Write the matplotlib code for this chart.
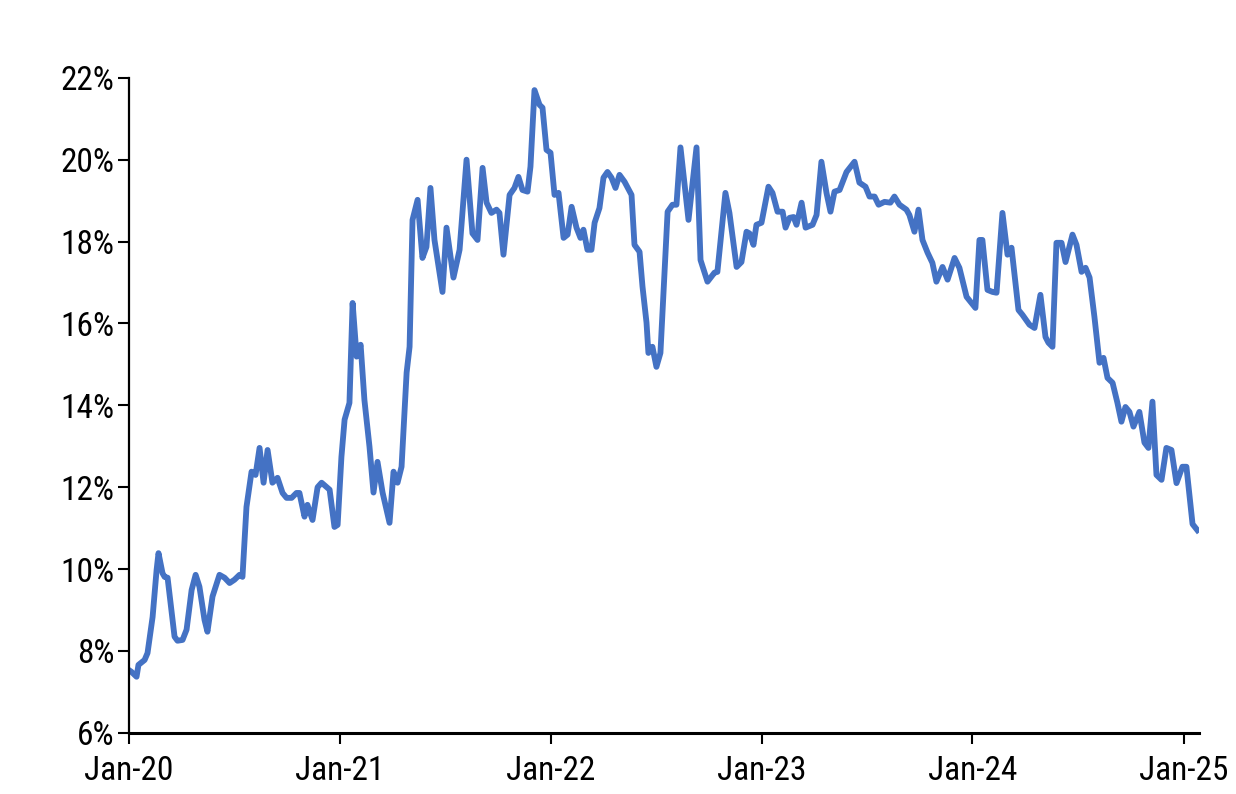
import matplotlib
matplotlib.use("Agg")
import matplotlib.pyplot as plt
import matplotlib.dates as mdates
from matplotlib.ticker import FuncFormatter
from matplotlib import font_manager
import pandas as pd

# time in years since Jan-2020 and the value (%)
years = [0.000, 0.014, 0.038, 0.047, 0.076, 0.090, 0.114, 0.133, 0.142, 0.161,
         0.171, 0.185, 0.218, 0.232, 0.256, 0.275, 0.299, 0.318, 0.336, 0.360,
         0.374, 0.398, 0.431, 0.455, 0.479, 0.502, 0.526, 0.540, 0.559, 0.583,
         0.602, 0.621, 0.640, 0.659, 0.682, 0.706, 0.730, 0.749, 0.773, 0.796,
         0.810, 0.834, 0.848, 0.872, 0.896, 0.915, 0.953, 0.976, 0.991, 1.009,
         1.024, 1.047, 1.062, 1.081, 1.100, 1.118, 1.142, 1.161, 1.180, 1.204,
         1.237, 1.256, 1.275, 1.294, 1.318, 1.332, 1.346, 1.370, 1.393, 1.412,
         1.431, 1.450, 1.488, 1.507, 1.540, 1.569, 1.602, 1.630, 1.654, 1.678,
         1.697, 1.720, 1.744, 1.758, 1.777, 1.806, 1.829, 1.848, 1.867, 1.891,
         1.905, 1.924, 1.948, 1.962, 1.981, 2.000, 2.019, 2.038, 2.062, 2.081,
         2.100, 2.123, 2.142, 2.156, 2.175, 2.194, 2.209, 2.232, 2.251, 2.270,
         2.289, 2.308, 2.327, 2.351, 2.384, 2.398, 2.422, 2.436, 2.455, 2.464,
         2.483, 2.502, 2.521, 2.555, 2.578, 2.597, 2.616, 2.654, 2.692, 2.711,
         2.744, 2.777, 2.791, 2.829, 2.848, 2.882, 2.905, 2.929, 2.943, 2.962,
         2.976, 3.000, 3.033, 3.052, 3.076, 3.100, 3.114, 3.133, 3.152, 3.166,
         3.190, 3.209, 3.242, 3.261, 3.284, 3.308, 3.327, 3.346, 3.370, 3.403,
         3.441, 3.464, 3.493, 3.512, 3.536, 3.555, 3.583, 3.611, 3.630, 3.654,
         3.687, 3.701, 3.725, 3.744, 3.763, 3.787, 3.810, 3.829, 3.858, 3.882,
         3.915, 3.938, 3.972, 3.995, 4.014, 4.033, 4.047, 4.071, 4.095, 4.114,
         4.142, 4.166, 4.185, 4.218, 4.237, 4.270, 4.294, 4.322, 4.346, 4.360,
         4.379, 4.398, 4.422, 4.441, 4.474, 4.493, 4.517, 4.536, 4.555, 4.578,
         4.602, 4.621, 4.640, 4.664, 4.687, 4.706, 4.725, 4.744, 4.763, 4.791,
         4.815, 4.834, 4.853, 4.872, 4.896, 4.919, 4.943, 4.967, 4.995, 5.014,
         5.043, 5.066]

share = [7.54, 7.49, 7.37, 7.66, 7.78, 7.95, 8.83, 9.98, 10.39, 9.90,
         9.81, 9.79, 8.35, 8.25, 8.27, 8.52, 9.49, 9.86, 9.57, 8.76,
         8.47, 9.33, 9.86, 9.79, 9.66, 9.74, 9.86, 9.81, 11.52, 12.38,
         12.30, 12.96, 12.11, 12.91, 12.11, 12.23, 11.86, 11.74, 11.74, 11.86,
         11.86, 11.28, 11.57, 11.20, 12.00, 12.11, 11.94, 11.03, 11.08, 12.74,
         13.65, 14.06, 16.50, 15.19, 15.48, 14.13, 12.99, 11.87, 12.62, 11.87,
         11.13, 12.38, 12.11, 12.50, 14.80, 15.43, 18.53, 19.02, 17.60, 17.87,
         19.31, 18.04, 16.77, 18.34, 17.12, 17.80, 20.00, 18.20, 18.04, 19.80,
         18.95, 18.70, 18.78, 18.70, 17.68, 19.14, 19.31, 19.58, 19.26, 19.22,
         19.83, 21.70, 21.34, 21.27, 20.24, 20.17, 19.14, 19.19, 18.09, 18.17,
         18.85, 18.34, 18.09, 18.29, 17.80, 17.80, 18.46, 18.82, 19.56, 19.70,
         19.56, 19.31, 19.63, 19.46, 19.14, 17.92, 17.75, 16.90, 16.02, 15.28,
         15.43, 14.94, 15.28, 18.73, 18.90, 18.90, 20.30, 18.53, 20.30, 17.55,
         17.02, 17.24, 17.26, 19.19, 18.70, 17.38, 17.50, 18.24, 18.20, 17.92,
         18.41, 18.46, 19.34, 19.19, 18.73, 18.73, 18.34, 18.58, 18.60, 18.41,
         18.95, 18.34, 18.41, 18.65, 19.95, 19.19, 18.73, 19.22, 19.26, 19.70,
         19.95, 19.44, 19.34, 19.10, 19.10, 18.90, 18.97, 18.95, 19.10, 18.90,
         18.78, 18.65, 18.24, 18.78, 18.04, 17.73, 17.48, 17.02, 17.38, 17.07,
         17.60, 17.36, 16.65, 16.50, 16.38, 18.04, 18.04, 16.82, 16.77, 16.75,
         18.70, 17.68, 17.85, 16.33, 16.21, 15.97, 15.89, 16.70, 15.67, 15.53,
         15.43, 17.97, 17.97, 17.50, 18.17, 17.92, 17.26, 17.36, 17.12, 16.16,
         15.04, 15.16, 14.67, 14.55, 14.06, 13.60, 13.96, 13.84, 13.48, 13.84,
         13.09, 12.96, 14.09, 12.30, 12.18, 12.96, 12.91, 12.10, 12.50, 12.50,
         11.10, 10.95]

dates = pd.Timestamp("2020-01-01") + pd.to_timedelta([y * 365.25 for y in years], unit="D")

# look for a narrow sans face if one is around, else plain Liberation Sans
names = {f.name for f in font_manager.fontManager.ttflist}
narrow = [n for n in ['Liberation Sans Narrow', 'DejaVu Sans Condensed', 'Roboto Condensed',
                      'Open Sans Condensed'] if n in names]
plt.rcParams['font.family'] = narrow + ['Liberation Sans', 'DejaVu Sans']
lab_size = 24 if narrow else 21

fig = plt.figure(figsize=(12.36, 7.94), dpi=100)
ax = fig.add_axes([0.104, 0.077, 0.866, 0.825])

ax.plot(dates, share, color='#4472C4', lw=4.2, solid_joinstyle='round')

ax.set_ylim(6, 22)
ax.set_yticks(range(6, 23, 2))
ax.yaxis.set_major_formatter(FuncFormatter(lambda v, p: f"{v:.0f}%"))
ax.set_xlim(pd.Timestamp("2020-01-01"), pd.Timestamp("2025-01-27"))
ax.xaxis.set_major_locator(mdates.YearLocator())
ax.xaxis.set_major_formatter(mdates.DateFormatter('%b-%y'))

for s in ['top', 'right']:
    ax.spines[s].set_visible(False)
ax.spines['left'].set_linewidth(1.6)
ax.spines['bottom'].set_linewidth(2.2)
ax.tick_params(axis='both', labelsize=lab_size, width=1.5, length=8, direction='out')
ax.tick_params(axis='y', pad=2)
ax.tick_params(axis='x', pad=8)

fig.savefig('out.png', dpi=100)
